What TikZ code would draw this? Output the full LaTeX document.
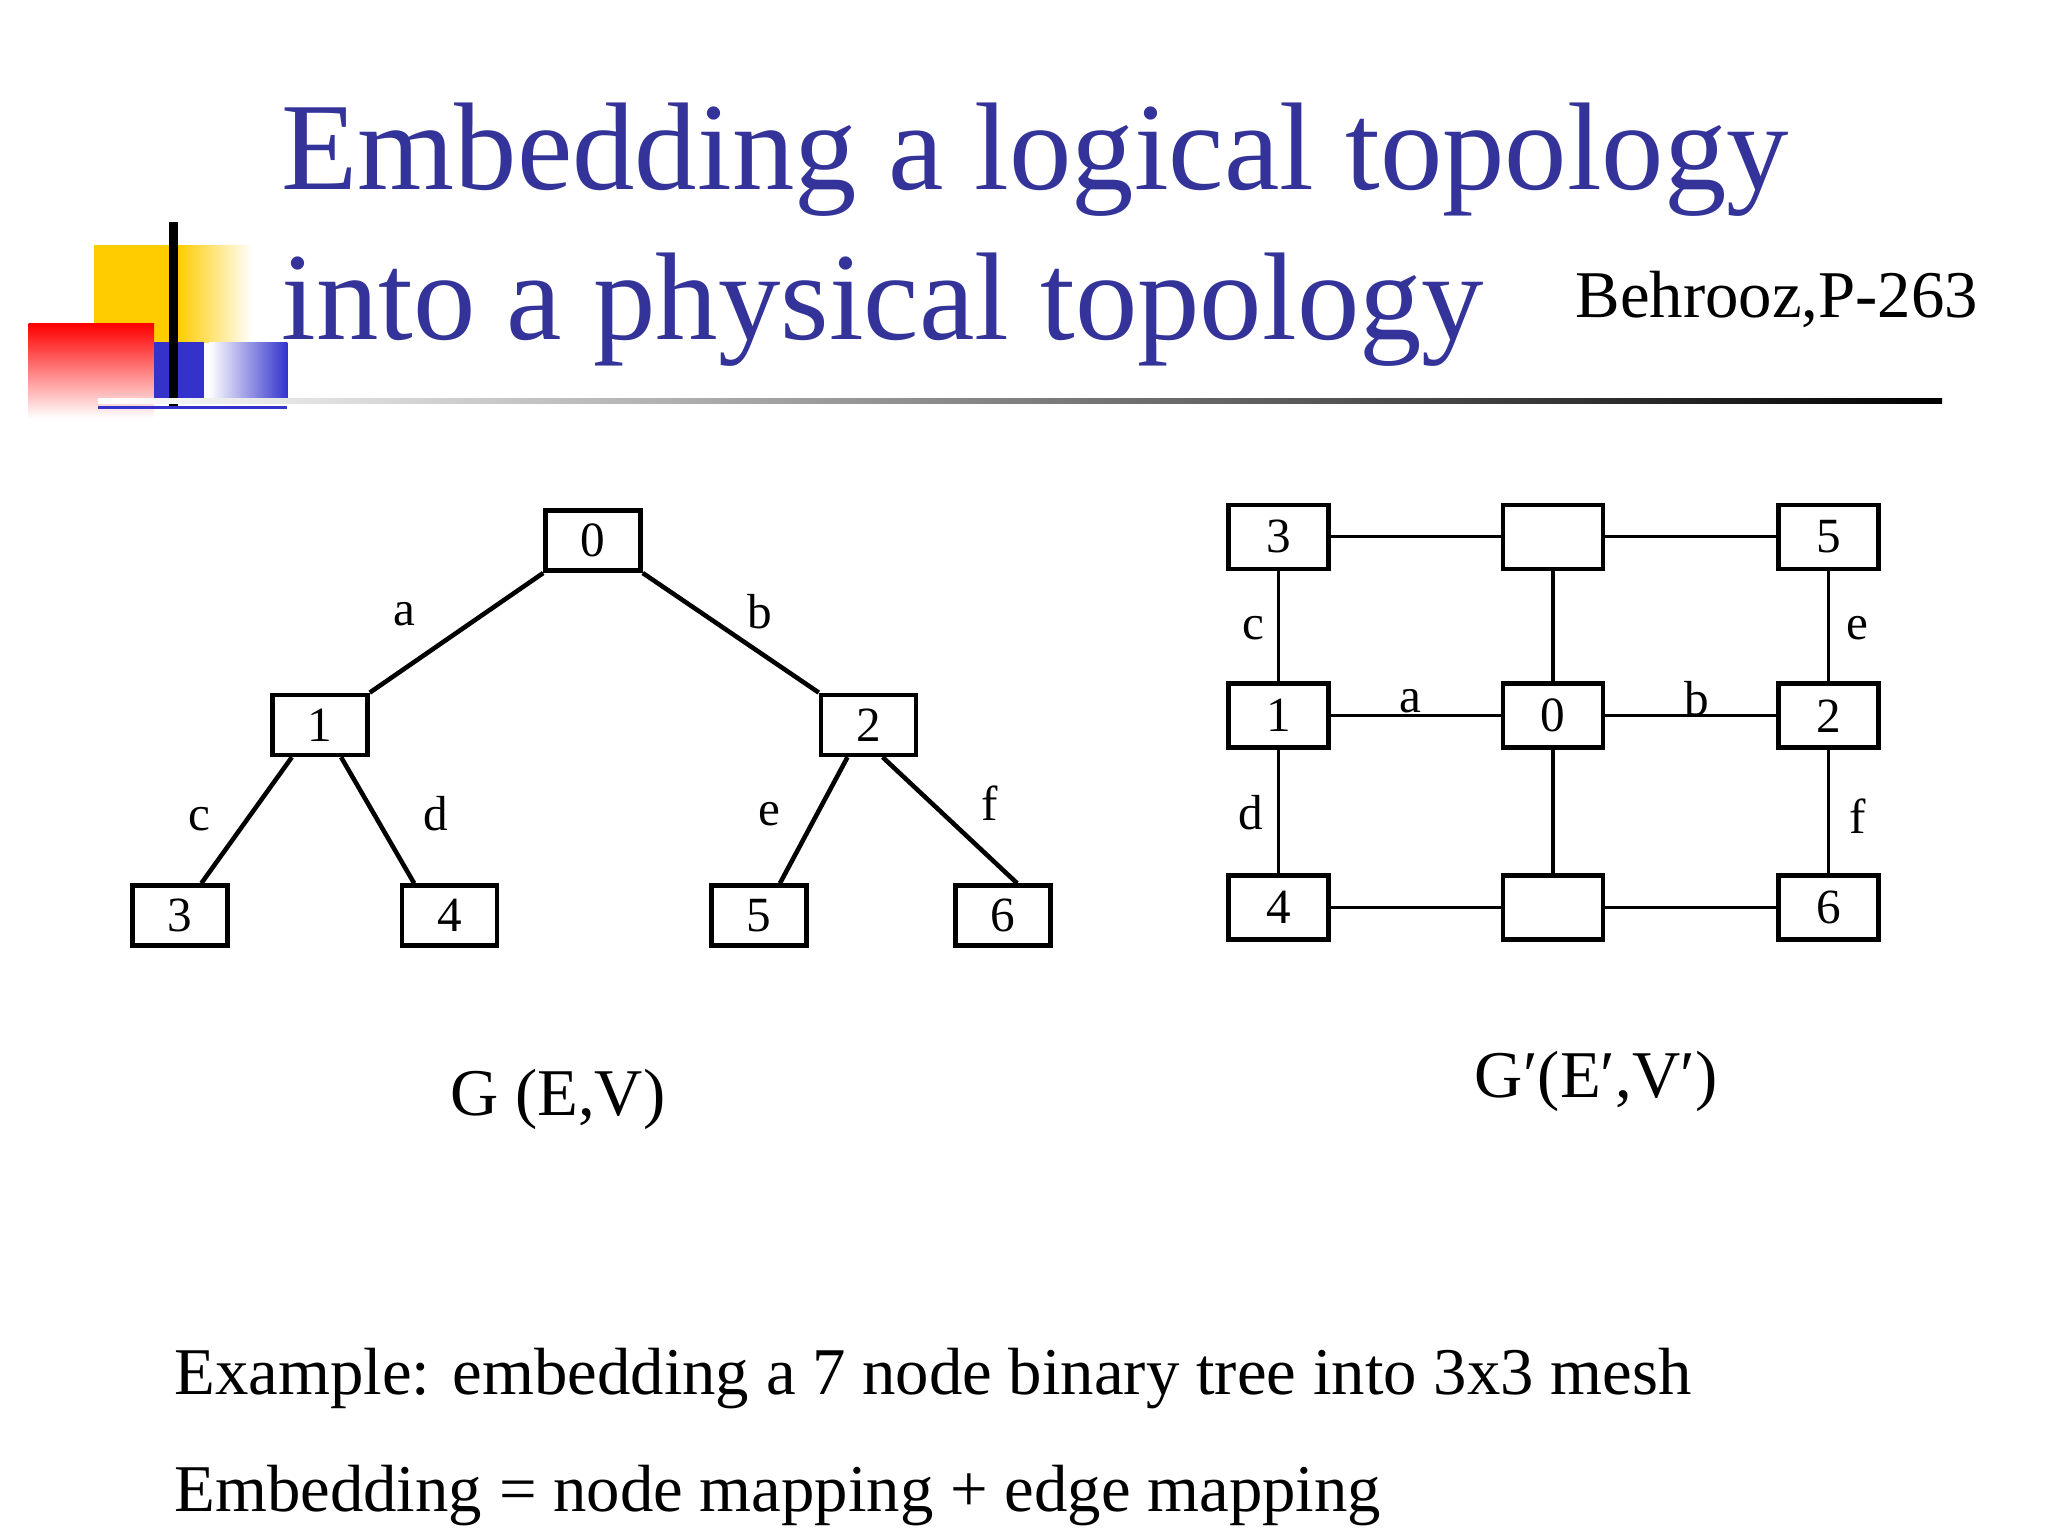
\documentclass[tikz,border=0pt]{standalone}
\usepackage{fontspec}
\setmainfont{Liberation Serif}
\definecolor{ttl}{RGB}{51,51,153}
\definecolor{ylw}{RGB}{255,204,0}
\definecolor{rd}{RGB}{255,0,0}
\definecolor{bl}{RGB}{51,51,204}
\begin{document}
\begin{tikzpicture}[x=0.013061cm,y=-0.013061cm,
  bx/.style={draw,line width=1.3pt,minimum width=0.95cm,minimum height=0.6cm,inner sep=0pt,font=\fontsize{14}{14}\selectfont},
  mb/.style={bx,minimum width=1cm,minimum height=0.64cm},
  lbl/.style={font=\fontsize{14}{14}\selectfont},
  ed/.style={line width=1.3pt},
  me/.style={line width=0.9pt}]
\useasboundingbox (0,0) rectangle (1568,1176);
% logo
\shade[left color=ylw,right color=ylw] (72,188) rectangle (133,262);
\shade[left color=ylw,right color=white] (136,188) rectangle (193,262);
\shade[left color=rd,right color=white,shading angle=0] (22,248) rectangle (118,320);
\fill[bl] (118,262) rectangle (156,305);
\shade[left color=white,right color=bl] (160,262) rectangle (220,305);
\draw[line width=2.5pt] (133,170) -- (133,312);
\draw[bl,line width=0.8pt] (75,312) -- (220,312);
% title
\node[anchor=base west,inner sep=0pt,text=ttl,font=\fontsize{35.5}{36}\selectfont] (t1) at (215,145) {Embedding a logical topology};
\node[anchor=base west,inner sep=0pt,text=ttl,font=\fontsize{35.5}{36}\selectfont] (t2) at (215,260) {into a physical topology};
\node[anchor=base east,inner sep=0pt,font=\fontsize{19}{19}\selectfont] (ref) at (1515,243) {Behrooz,P-263};
\shade[left color=white,right color=black] (75,305) rectangle (1487,309);
% tree
\node[bx] (n0) at (454,414) {0};
\node[bx] (n1) at (245,555) {1};
\node[bx] (n2) at (665,555) {2};
\node[bx] (n3) at (138,701) {3};
\node[bx] (n4) at (344,701) {4};
\node[bx] (n5) at (581,701) {5};
\node[bx] (n6) at (768,701) {6};
\draw[ed] (n0.south west) -- (n1.north east);
\draw[ed] (n0.south east) -- (n2.north west);
\draw[ed] ([xshift=-8pt]n1.south) -- ([xshift=6pt]n3.north);
\draw[ed] ([xshift=6pt]n1.south) -- ([xshift=-10pt]n4.north);
\draw[ed] ([xshift=-6pt]n2.south) -- ([xshift=6pt]n5.north);
\draw[ed] ([xshift=4pt]n2.south) -- ([xshift=4pt]n6.north);
\node[lbl] (la) at (310,470) {a};
\node[lbl] (lb) at (582,468) {b};
\node[lbl] (lc) at (153,627) {c};
\node[lbl] (ld) at (334,623) {d};
\node[lbl] (le) at (589,623) {e};
\node[lbl] (lf) at (758,615) {f};
% mesh
\node[mb] (m3) at (979,411) {3};
\node[mb] (mt) at (1189,411) {};
\node[mb] (m5) at (1400,411) {5};
\node[mb] (m1) at (979,548) {1};
\node[mb] (m0) at (1189,548) {0};
\node[mb] (m2) at (1400,548) {2};
\node[mb] (m4) at (979,695) {4};
\node[mb] (mb0) at (1189,695) {};
\node[mb] (m6) at (1400,695) {6};
\foreach \a/\b in {m3/mt,mt/m5,m1/m0,m0/m2,m4/mb0,mb0/m6} \draw[me] (\a) -- (\b);
\foreach \a/\b in {m3/m1,m1/m4,mt/m0,m0/mb0,m5/m2,m2/m6} \draw[me] (\a) -- (\b);
\node[lbl] (mc) at (960,481) {c};
\node[lbl] (mee) at (1422,481) {e};
\node[lbl] (ma) at (1080,537) {a};
\node[lbl] (mbb) at (1299,535) {b};
\node[lbl] (md) at (958,622) {d};
\node[lbl] (mf) at (1422,625) {f};
% captions
\node[font=\fontsize{19}{19}\selectfont] (g1) at (427,842) {G (E,V)};
\node[font=\fontsize{19}{19}\selectfont] (g2) at (1222,828) {G′(E′,V′)};
\node[anchor=base west,inner sep=0pt,font=\fontsize{19}{19}\selectfont] (ex) at (133,1068) {Example: embedding a 7 node binary tree into 3x3 mesh};
\node[anchor=base west,inner sep=0pt,font=\fontsize{19}{19}\selectfont] (em) at (133,1157) {Embedding = node mapping + edge mapping};
\end{tikzpicture}
\end{document}
